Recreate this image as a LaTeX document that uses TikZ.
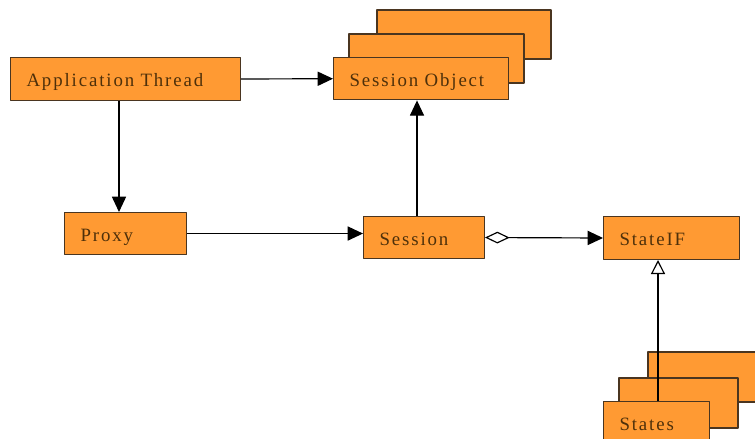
\documentclass[tikz,border=0pt]{standalone}
\usepackage{fontspec}
\setmainfont{Liberation Serif}[LetterSpace=10]
\usetikzlibrary{arrows.meta}
\definecolor{boxfill}{HTML}{FF9A33}
\definecolor{boxline}{HTML}{4A3520}
\definecolor{boxtext}{HTML}{4E300A}
\tikzset{
  box/.style={draw=boxline, fill=boxfill, line width=0.9pt, anchor=north west, rectangle,
    inner xsep=13.6pt, inner ysep=0pt, align=left, text=boxtext,
    text height=13pt, text depth=0pt,
    font=\fontsize{16}{18}\selectfont},
  stack/.style={draw=boxline, fill=boxfill, line width=0.9pt},
  conn/.style={line width=1pt, -{Triangle[length=13pt,width=12pt]}},
}
\begin{document}
\begin{tikzpicture}[x=0.85pt, y=-0.85pt, line join=round]
\clip (0,0) rectangle (755,439);
% stacked copies behind
\draw[stack] (377,10) rectangle (551,59);
\draw[stack] (349,34) rectangle (524,83);
\draw[stack] (648,352) rectangle (770,402);
\draw[stack] (619,378) rectangle (738,428);
% classes
\node[box, minimum height=36.5pt, text width=168.3pt] (app) at (10,57) {Application Thread};
\node[box, minimum height=36pt, text width=121.6pt] (sobj) at (333,57) {Session Object};
\node[box, minimum height=35.7pt, text width=76.5pt] (proxy) at (64,212) {Proxy};
\node[box, minimum height=35.7pt, text width=75.6pt] (sess) at (363,216) {Session};
\node[box, minimum height=36.5pt, text width=88.4pt] (stateif) at (603,216) {StateIF};
\node[box, minimum height=36.5pt, text width=62.9pt] (states) at (603,401) {States};
% connectors
\draw[conn] (app.east) -- (sobj.west);
\draw[conn] (app.south -| 119,0) -- (proxy.north -| 119,0);
\draw[conn] (proxy.east) -- (proxy.east -| sess.west);
\draw[conn] (sess.north -| 417,0) -- (sobj.south -| 417,0);
\draw[line width=1pt, {Diamond[open,length=21pt,width=10pt]}-{Triangle[length=13pt,width=12pt]}] (sess.east) -- (stateif.west);
\draw[line width=1pt, -{Triangle[open,length=12pt,width=12pt]}] (states.north -| 658,0) -- (stateif.south -| 658,0);
\end{tikzpicture}
\end{document}
